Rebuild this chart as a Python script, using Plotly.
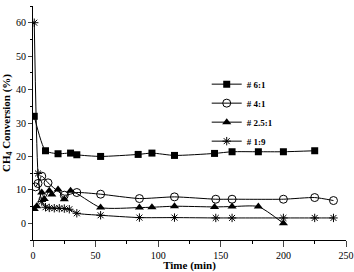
import plotly.graph_objects as go

# Time (min) and CH4 conversion (%) for each feed ratio
t_61 = [1, 10, 20, 30, 35, 54, 84, 95, 113, 145, 159, 180, 200, 225]
c_61 = [32, 21.7, 20.8, 21.0, 20.5, 20.0, 20.6, 21.0, 20.3, 20.9, 21.4, 21.4, 21.4, 21.7]

t_41 = [2, 4, 7, 12, 25, 35, 54, 85, 113, 146, 159, 200, 225, 240]
c_41 = [10.9, 11.9, 14.1, 12.1, 8.4, 9.2, 8.7, 7.4, 7.9, 7.2, 7.2, 7.2, 7.7, 6.8]

t_25 = [1, 3, 7, 9, 13, 15, 20, 25, 30, 54, 85, 95, 113, 145, 159, 180, 200]
c_25 = [4.3, 5.1, 9.2, 7.3, 9.7, 8.6, 10.1, 7.2, 9.7, 4.7, 4.7, 4.8, 5.1, 4.9, 5.0, 5.0, 0.0]

t_19 = [1, 4, 7, 10, 13, 17, 21, 25, 29, 35, 54, 85, 113, 146, 159, 200, 225, 240]
c_19 = [60, 14.9, 6.5, 4.8, 4.6, 4.5, 4.5, 4.4, 4.2, 3.0, 2.4, 1.7, 1.7, 1.6, 1.6, 1.6, 1.6, 1.6]

names = ["# 6:1", "# 4:1", "# 2.5:1", "# 1:9"]
x_ticks = [0, 50, 100, 150, 200, 250]
y_ticks = [0, 10, 20, 30, 40, 50, 60]

series = [
    (t_61, c_61, dict(symbol="square", size=7, color="black")),
    (t_41, c_41, dict(symbol="circle-open", size=8, color="black", line=dict(width=1, color="black"))),
    (t_25, c_25, dict(symbol="triangle-up", size=8, color="black")),
    (t_19, c_19, dict(symbol="asterisk-open", size=7, color="black", line=dict(width=1, color="black"))),
]

fig = go.Figure()
for (t, c, mk), nm in zip(series, names):
    fig.add_trace(go.Scatter(
        x=t, y=c, name=nm, mode="lines+markers",
        line=dict(color="black", width=1, shape="spline", smoothing=0.6),
        marker=mk,
    ))

font = "Liberation Serif, Times New Roman, serif"
fig.update_layout(
    width=354, height=272,
    margin=dict(l=33, r=8, t=6, b=32),
    paper_bgcolor="white", plot_bgcolor="white",
    font=dict(family=font, size=10, color="black"),
    showlegend=True,
    legend=dict(x=0.555, y=0.728, xanchor="left", yanchor="top",
                bgcolor="rgba(0,0,0,0)", font=dict(size=9, family=font, weight="bold"),
                itemwidth=30, tracegroupgap=0),
    xaxis=dict(
        range=[0, 250], tickvals=x_ticks, ticks="outside", ticklen=6, tickwidth=1,
        showline=True, linecolor="black", linewidth=1, showgrid=False, zeroline=False,
        automargin=False,
        minor=dict(dtick=25, ticks="outside", ticklen=3, tickcolor="black"),
        title=dict(text="<b>Time (min)</b>", font=dict(size=11, family=font), standoff=9),
        tickfont=dict(size=10, family=font),
    ),
    yaxis=dict(
        range=[-5, 65], tickvals=y_ticks, ticks="outside", ticklen=4, tickwidth=1,
        showline=True, linecolor="black", linewidth=1, showgrid=False, zeroline=False,
        automargin=False,
        minor=dict(dtick=5, ticks="outside", ticklen=2, tickcolor="black"),
        title=dict(text="<b>CH<sub>4</sub> Conversion (%)</b>", font=dict(size=11, family=font), standoff=3),
        tickfont=dict(size=10, family=font),
    ),
)

fig.write_html("out.html")
